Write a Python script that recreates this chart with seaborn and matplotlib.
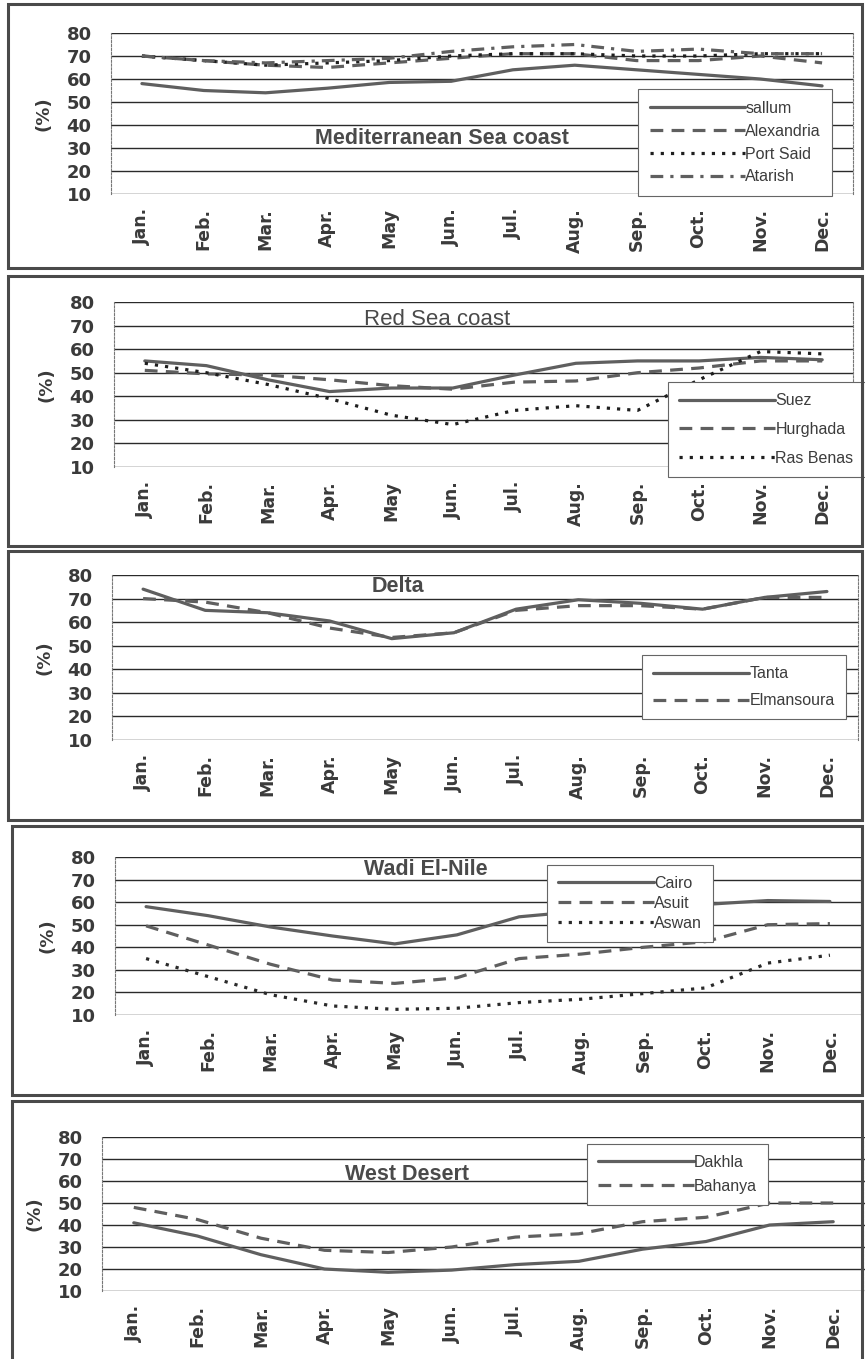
import matplotlib
matplotlib.use("Agg")
import matplotlib.pyplot as plt
import pandas as pd
import seaborn as sns
from matplotlib.patches import Rectangle

sns.set_theme(style="white")
plt.rcParams["font.family"] = ["DejaVu Sans"]

months = ["Jan.", "Feb.", "Mar.", "Apr.", "May", "Jun.",
          "Jul.", "Aug.", "Sep.", "Oct.", "Nov.", "Dec."]
y_ticks = [10, 20, 30, 40, 50, 60, 70, 80]

# Relative humidity (%) — Mediterranean Sea coast
sallum     = [58, 55, 54, 56, 58.5, 59, 64, 66, 64, 62, 60, 57]
alexandria = [70, 68, 66, 65, 67, 69, 71, 71, 68, 68, 70, 67]
port_said  = [70, 68, 66, 67, 68, 70, 71, 71, 70, 70, 71, 71]
atarish    = [70, 68, 67, 68, 69, 72, 74, 75, 72, 73, 71, 71]

# Red Sea coast
suez      = [55, 53, 47, 42, 43.5, 43.5, 49, 54, 55, 55, 56.5, 55.5]
hurghada  = [51, 49.5, 49, 47, 44.5, 43, 46, 46.5, 50, 52, 55, 55]
ras_benas = [54, 50, 45, 39, 32, 28, 34, 36, 34, 47, 59, 58]

# Delta
tanta      = [74, 65, 64, 60.5, 53, 55.5, 65.5, 69.5, 68, 65.5, 70.5, 73]
elmansoura = [70, 68.5, 64, 57.5, 53.5, 55.5, 65, 67, 67, 65.5, 70.5, 70.5]

# Wadi El-Nile
cairo = [58, 54, 49, 45, 41.5, 45.5, 53.5, 56, 58, 59, 60.7, 60.3]
asuit = [49.5, 41, 32.5, 25.5, 24, 26.5, 35, 37, 40, 42.5, 50, 50.5]
aswan = [35, 27, 19, 14, 12.5, 13, 15.5, 17, 19.5, 22, 33, 36.5]

# West Desert
dakhla  = [41, 35, 26.5, 20, 18.5, 19.5, 22, 23.5, 29, 32.5, 40, 41.5]
bahanya = [48, 42.5, 34, 28.5, 27.5, 30, 34.5, 36, 41.5, 43.5, 50, 50]

FIG_W, FIG_H = 865, 1359
GRAY = "#5f5f5f"
DARK = "#1e1e1e"
TXT = "#3a3a3a"

styles = {
    "solid":   "",
    "dashed":  (4.0, 2.6),
    "dotted":  (1.0, 2.2),
    "dashdot": (4.0, 2.2, 1.0, 2.2),
}

panels = [
    dict(title="Mediterranean Sea coast", tpos=(4.85, 34), bold=True,
         series=[("sallum", sallum, "solid", GRAY),
                 ("Alexandria", alexandria, "dashed", GRAY),
                 ("Port Said", port_said, "dotted", DARK),
                 ("Atarish", atarish, "dashdot", GRAY)],
         box=(111, 853, 33, 194), frame=(8, 4, 862, 268),
         leg=(8.03, 55.5), spacing=0.5),
    dict(title="Red Sea coast", tpos=(4.75, 72.5), bold=False,
         series=[("Suez", suez, "solid", GRAY),
                 ("Hurghada", hurghada, "dashed", GRAY),
                 ("Ras Benas", ras_benas, "dotted", DARK)],
         box=(114, 853, 302, 467), frame=(8, 276, 862, 546),
         leg=(8.5, 46), spacing=0.86),
    dict(title="Delta", tpos=(4.1, 75), bold=True,
         series=[("Tanta", tanta, "solid", GRAY),
                 ("Elmansoura", elmansoura, "dashed", GRAY)],
         box=(112, 858, 575, 740), frame=(8, 551, 862, 820),
         leg=(8.03, 46), spacing=0.75),
    dict(title="Wadi El-Nile", tpos=(4.5, 74.5), bold=True,
         series=[("Cairo", cairo, "solid", GRAY),
                 ("Asuit", asuit, "dashed", GRAY),
                 ("Aswan", aswan, "dotted", "#2a2a2a")],
         box=(115, 861, 857, 1015), frame=(12, 826, 862, 1095),
         leg=(6.45, 76.5), spacing=0.3),
    dict(title="West Desert", tpos=(4.3, 63), bold=True,
         series=[("Dakhla", dakhla, "solid", GRAY),
                 ("Bahanya", bahanya, "dashed", GRAY)],
         box=(102, 865, 1137, 1291), frame=(12, 1101, 862, 1362),
         leg=(7.12, 77), spacing=0.55),
]

fig = plt.figure(figsize=(FIG_W / 100, FIG_H / 100), dpi=100)
fig.patch.set_facecolor("white")

for p in panels:
    fx0, fy0, fx1, fy1 = p["frame"]
    fig.patches.append(Rectangle((fx0 / FIG_W, 1 - fy1 / FIG_H),
                                 (fx1 - fx0) / FIG_W, (fy1 - fy0) / FIG_H,
                                 transform=fig.transFigure, fill=False,
                                 edgecolor="#4a4a4a", linewidth=2.2, zorder=0))

    x0, x1, ytop, ybot = p["box"]
    ax = fig.add_axes([x0 / FIG_W, 1 - ybot / FIG_H,
                       (x1 - x0) / FIG_W, (ybot - ytop) / FIG_H])

    rows = []
    for name, vals, _, _ in p["series"]:
        for m, v in zip(months, vals):
            rows.append({"month": m, "value": v, "station": name})
    df = pd.DataFrame(rows)
    names = [s[0] for s in p["series"]]
    dashes = {s[0]: styles[s[2]] for s in p["series"]}
    palette = {s[0]: s[3] for s in p["series"]}

    sns.lineplot(data=df, x="month", y="value", hue="station", style="station",
                 hue_order=names, style_order=names, dashes=dashes,
                 palette=palette, sort=False, linewidth=2.3, ax=ax, zorder=3)

    ax.set_xlim(-0.5, 11.5)
    ax.set_ylim(10, 80)
    ax.set_yticks(y_ticks)
    ax.set_xticks(range(12))
    ax.set_xticklabels(months, rotation=90, fontsize=12.5,
                       fontweight="bold", color=TXT)
    ax.set_yticklabels([str(t) for t in y_ticks], fontsize=13,
                       fontweight="bold", color=TXT)
    ax.set_xticks([i + 0.5 for i in range(11)], minor=True)
    ax.tick_params(axis="x", which="major", length=0, pad=10)
    ax.tick_params(axis="x", which="minor", length=4, direction="in",
                   color="#333", width=0.8)
    ax.tick_params(axis="y", length=0, pad=14)
    ax.set_xlabel("")
    ax.set_ylabel("(%)", fontsize=13, fontweight="bold", color=TXT,
                  labelpad=10)
    ax.yaxis.grid(True, color="#2a2a2a", linewidth=1.0)
    ax.xaxis.grid(False)
    for side in ("top", "bottom"):
        ax.spines[side].set_visible(False)
    for side in ("left", "right"):
        ax.spines[side].set_color("#777")
        ax.spines[side].set_linewidth(0.8)
        ax.spines[side].set_linestyle((0, (2, 1.5)))

    ax.text(p["tpos"][0], p["tpos"][1], p["title"], ha="center", va="center",
            fontsize=15.5 if p["bold"] else 16,
            fontweight="bold" if p["bold"] else "normal",
            color="#4a4a4a", family=["Liberation Sans"], zorder=4)

    handles, labels = ax.get_legend_handles_labels()
    lx, ly = p["leg"]
    leg = ax.legend(handles, labels, loc="upper left",
                    bbox_to_anchor=((lx + 0.5) / 12, (ly - 10) / 70),
                    borderaxespad=0, handlelength=6.0,
                    handletextpad=0.0, labelspacing=p["spacing"],
                    frameon=True, fancybox=False, framealpha=1,
                    edgecolor="#666", borderpad=0.7,
                    prop={"family": "Liberation Sans", "size": 11.5})
    leg.get_frame().set_linewidth(0.8)
    for t in leg.get_texts():
        t.set_color("#3c3c3c")
    leg.set_zorder(5)

fig.savefig("out.png", dpi=100, facecolor="white")
